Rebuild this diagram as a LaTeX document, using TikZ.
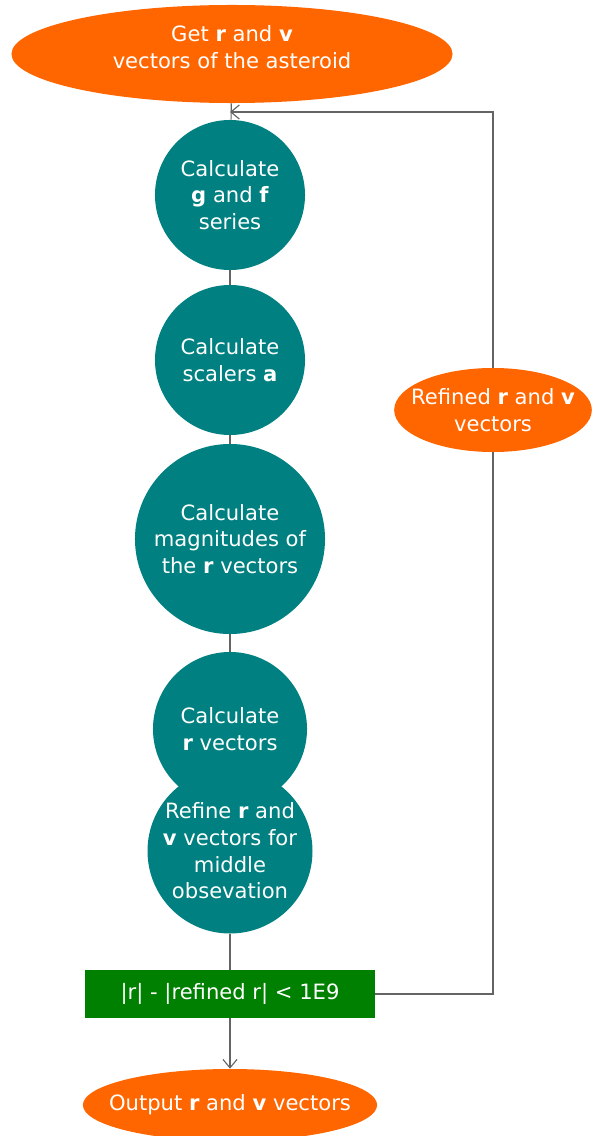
\documentclass[tikz,border=0pt]{standalone}
\usepackage{fontspec}
\setmainfont{DejaVu Sans}
\usetikzlibrary{arrows.meta, shapes.geometric}
\definecolor{orbitorange}{RGB}{255,102,0}
\definecolor{calcteal}{RGB}{0,128,128}
\definecolor{testgreen}{RGB}{0,128,0}
\definecolor{linegray}{RGB}{100,100,100}

\begin{document}
\begin{tikzpicture}[
  x=0.025cm, y=-0.025cm,
  every node/.style={align=center, text=white, font=\fontsize{15}{19}\selectfont},
  terminal/.style={ellipse, fill=orbitorange, inner sep=0pt},
  calc/.style={circle, fill=calcteal, inner sep=0pt},
  test/.style={rectangle, fill=testgreen, inner sep=0pt},
  link/.style={draw=linegray, line width=0.8pt},
  >={Straight Barb[length=6pt, width=10pt]}
]
\useasboundingbox (0,0) rectangle (600,1136);

% start and loop
\node[terminal, minimum width=11.025cm, minimum height=2.45cm] (start) at (232,54)
  {Get \textbf{r} and \textbf{v}\\vectors of the asteroid\\[-9pt]};
\node[calc, minimum size=3.75cm] (gf) at (230,195)
  {Calculate\\\textbf{g} and \textbf{f}\\series};
\node[calc, minimum size=3.75cm] (scal) at (230,360)
  {Calculate\\scalers \textbf{a}};
\node[calc, minimum size=4.75cm] (mag) at (230,539)
  {Calculate\\magnitudes of\\the \textbf{r} vectors};
\node[calc, minimum size=3.85cm] (rvec) at (230,729)
  {Calculate\\\textbf{r} vectors};
\node[calc, minimum size=4.1cm] (refine) at (230,851)
  {Refine \textbf{r} and\\\textbf{v} vectors for\\middle\\obsevation};
\node[test, minimum width=7.25cm, minimum height=1.2cm] (check) at (230,994)
  {|r| - |refined r| < 1E9};
\node[terminal, inner xsep=-12pt, minimum height=1.8cm] (out) at (230,1105)
  {Output \textbf{r} and \textbf{v} vectors};
\node[terminal, inner xsep=-8.5pt, minimum height=2.1cm] (refined) at (493,410)
  {Refined \textbf{r} and \textbf{v}\\vectors};
\coordinate (loopin) at (230,112);

\draw[link] (start) -- (gf);
\draw[link] (gf) -- (scal);
\draw[link] (scal) -- (mag);
\draw[link] (mag) -- (rvec);
\draw[link] (refine) -- (check);
\draw[link, ->] (check) -- (out);
\draw[link] (check.east) -| (refined.south);
\draw[link, ->] (refined.north) |- (loopin);
\end{tikzpicture}
\end{document}
